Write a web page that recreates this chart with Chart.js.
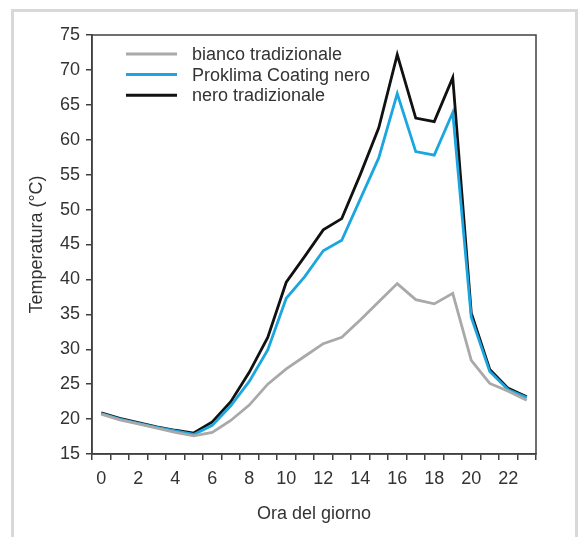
<!DOCTYPE html>
<html>
<head>
<meta charset="utf-8">
<script src="https://cdn.jsdelivr.net/npm/chart.js@4.4.1/dist/chart.umd.min.js"></script>
<style>
  html, body { margin: 0; padding: 0; background: #fff; }
  #chart { display: block; }
</style>
</head>
<body>
<canvas id="chart" width="580" height="537"></canvas>
<script>
// Hours of the day (x categories)
const hours = ['0', '1', '2', '3', '4', '5', '6', '7', '8', '9', '10', '11',
  '12', '13', '14', '15', '16', '17', '18', '19', '20', '21', '22', '23'];

// Temperature series (°C)
const biancoTradizionale = [20.7, 19.9, 19.3, 18.7, 18.1, 17.6, 18.1, 19.8, 22.0, 25.0, 27.2, 29.0,
  30.8, 31.7, 34.2, 36.8, 39.4, 37.1, 36.5, 38.0, 28.4, 25.1, 24.0, 22.7];
const proklimaNero = [20.8, 20.0, 19.4, 18.8, 18.3, 17.8, 19.1, 21.9, 25.4, 29.9, 37.3, 40.4,
  44.1, 45.6, 51.5, 57.4, 66.6, 58.3, 57.8, 63.9, 34.6, 26.8, 24.2, 23.1];
const neroTradizionale = [20.9, 20.1, 19.5, 18.9, 18.4, 18.0, 19.6, 22.5, 26.7, 31.7, 39.6, 43.3,
  47.1, 48.7, 55.0, 61.7, 72.2, 63.1, 62.6, 68.9, 35.2, 27.1, 24.4, 23.2];

// y axis range
const yMin = 15;
const yMax = 75;
const yStep = 5;

const textColor = '#333333';
const axisColor = '#404040';
const fontFamily = '"Liberation Sans", Arial, Helvetica, sans-serif';

// light gray frame round the whole picture + box round the plot
const framePlugin = {
  id: 'frames',
  beforeDraw(chart) {
    const ctx = chart.ctx;
    ctx.save();
    ctx.strokeStyle = '#d8d8d8';
    ctx.lineWidth = 3;
    ctx.strokeRect(12.5, 10.5, 564, 600);
    ctx.restore();
  },
  afterDraw(chart) {
    const a = chart.chartArea;
    const ctx = chart.ctx;
    ctx.save();
    ctx.strokeStyle = axisColor;
    ctx.lineWidth = 1.5;
    ctx.strokeRect(a.left, a.top, a.right - a.left, a.bottom - a.top);
    ctx.restore();
  }
};

// legend drawn inside the plot, top left
const insideLegend = {
  id: 'insideLegend',
  afterDraw(chart) {
    const ctx = chart.ctx;
    ctx.save();
    ctx.font = '18px ' + fontFamily;
    ctx.textBaseline = 'middle';
    chart.data.datasets.forEach(function (ds, i) {
      const y = 54 + i * 20.6;
      ctx.strokeStyle = ds.borderColor;
      ctx.lineWidth = 3;
      ctx.beginPath();
      ctx.moveTo(126, y);
      ctx.lineTo(177, y);
      ctx.stroke();
      ctx.fillStyle = textColor;
      ctx.fillText(ds.label, 192, y + 1);
    });
    ctx.restore();
  }
};

const ctx = document.getElementById('chart').getContext('2d');
const chart = new Chart(ctx, {
  type: 'line',
  data: {
    labels: hours,
    datasets: [
      {
        label: 'bianco tradizionale',
        data: biancoTradizionale,
        borderColor: '#a9a9a9',
        borderWidth: 2.8
      },
      {
        label: 'Proklima Coating nero',
        data: proklimaNero,
        borderColor: '#1ba6e0',
        borderWidth: 2.8
      },
      {
        label: 'nero tradizionale',
        data: neroTradizionale,
        borderColor: '#111111',
        borderWidth: 2.8
      }
    ]
  },
  options: {
    responsive: false,
    animation: false,
    devicePixelRatio: 1,
    elements: {
      point: { radius: 0 },
      line: { tension: 0, borderJoinStyle: 'miter' }
    },
    layout: {
      padding: { left: 0, top: 35, right: 44, bottom: 0 }
    },
    plugins: {
      legend: { display: false },
      tooltip: { enabled: false }
    },
    scales: {
      x: {
        type: 'category',
        offset: true,
        grid: {
          offset: true,
          drawOnChartArea: false,
          drawTicks: true,
          tickLength: 6,
          color: axisColor,
          lineWidth: 1.5
        },
        border: { display: true, color: axisColor, width: 1.5 },
        ticks: {
          autoSkip: false,
          maxRotation: 0,
          padding: 8,
          color: textColor,
          font: { family: fontFamily, size: 18 },
          callback: function (value, index) {
            return index % 2 === 0 ? hours[index] : '';
          }
        },
        title: {
          display: true,
          text: 'Ora del giorno',
          color: textColor,
          font: { family: fontFamily, size: 18 },
          padding: { top: 0, bottom: 12 }
        },
        afterFit: function (scale) { scale.height = 83; }
      },
      y: {
        min: yMin,
        max: yMax,
        grid: {
          drawOnChartArea: false,
          drawTicks: true,
          tickLength: 6,
          color: axisColor,
          lineWidth: 1.5
        },
        border: { display: true, color: axisColor, width: 1.5 },
        ticks: {
          stepSize: yStep,
          padding: 6,
          color: textColor,
          font: { family: fontFamily, size: 18 }
        },
        title: {
          display: true,
          text: 'Temperatura (°C)',
          color: textColor,
          font: { family: fontFamily, size: 18 },
          padding: { top: 26, bottom: 0 }
        },
        afterFit: function (scale) { scale.width = 92; }
      }
    }
  },
  plugins: [framePlugin, insideLegend]
});
</script>
</body>
</html>
